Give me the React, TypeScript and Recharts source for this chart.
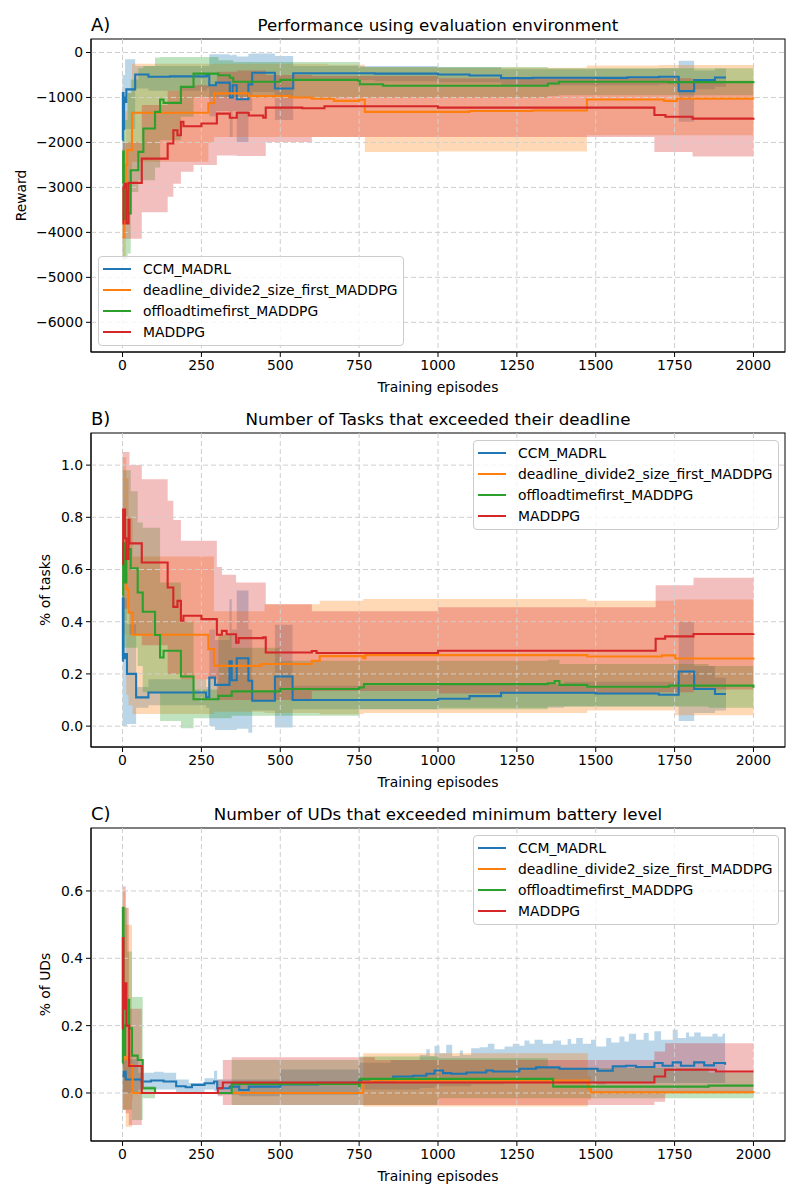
import { ComposedChart, Area, Line, XAxis, YAxis, CartesianGrid, Legend } from 'recharts';

type LinePoint = [number, number];
type BandPoint = [number, number, number];

const seriesNames = ['CCM_MADRL', 'deadline_divide2_size_first_MADDPG', 'offloadtimefirst_MADDPG', 'MADDPG'];
const seriesColors = ['#1f77b4', '#ff7f0e', '#2ca02c', '#d62728'];
const episodeTicks = [0, 250, 500, 750, 1000, 1250, 1500, 1750, 2000];

// Panel A: reward. Lines are [episode, mean], bands are [episode, low, high]
const rewardCcmLine: LinePoint[] = [[0, -1950], [1, -900], [3, -1700], [5, -1000], [8, -1100], [12, -820], [40, -490], [82, -540], [150, -530], [267, -500], [275, -730], [296, -670], [340, -1000], [349, -730], [362, -1040], [399, -710], [411, -450], [483, -800], [541, -460], [800, -470], [1000, -490], [1100, -510], [1200, -570], [1300, -560], [1400, -560], [1500, -565], [1600, -550], [1700, -540], [1763, -860], [1812, -615], [1878, -555], [1913, -555]];
const rewardCcmBand: BandPoint[] = [[0, -2400, -500], [8, -1700, -150], [40, -800, -300], [82, -850, -300], [267, -800, -300], [275, -1420, -40], [296, -1300, -40], [340, -1880, -60], [349, -1300, -50], [362, -1990, -90], [399, -1300, -30], [411, -880, -20], [483, -1500, -80], [541, -620, -300], [800, -640, -300], [1000, -660, -330], [1200, -730, -370], [1500, -730, -360], [1700, -710, -350], [1763, -1540, -185], [1812, -820, -400], [1878, -760, -355], [1913, -760, -355]];
const rewardDeadlineLine: LinePoint[] = [[0, -4100], [4, -3000], [10, -2500], [15, -2170], [30, -1340], [272, -1130], [290, -910], [400, -970], [530, -1000], [600, -1030], [670, -1075], [750, -1050], [768, -1320], [1100, -1300], [1300, -1290], [1472, -1045], [1716, -1075], [1757, -1025], [2000, -1030]];
const rewardDeadlineBand: BandPoint[] = [[0, -4600, -2500], [10, -3600, -1300], [15, -3000, -900], [30, -2430, -250], [272, -2000, -260], [290, -1880, -250], [500, -1880, -250], [650, -1880, -270], [768, -2210, -330], [1000, -2200, -340], [1472, -1840, -290], [1700, -1840, -280], [2000, -1840, -245]];
const rewardOffloadLine: LinePoint[] = [[0, -2900], [2, -2200], [4, -3700], [7, -3100], [16, -3580], [26, -2620], [50, -2210], [66, -1690], [103, -1320], [119, -1045], [130, -1120], [185, -765], [225, -470], [304, -505], [340, -560], [351, -650], [500, -610], [747, -630], [752, -705], [826, -740], [1348, -690], [1383, -650], [1732, -660], [2000, -640]];
const rewardOffloadBand: BandPoint[] = [[0, -4600, -1500], [16, -4470, -900], [26, -3100, -600], [50, -2840, -350], [66, -2840, -300], [103, -2560, -110], [119, -1950, -100], [185, -1430, -100], [225, -990, -100], [304, -990, -170], [351, -1000, -210], [752, -1000, -320], [1348, -970, -350], [1383, -950, -350], [2000, -950, -320]];
const rewardMaddpgLine: LinePoint[] = [[0, -3800], [3, -3000], [8, -2920], [12, -3800], [19, -2900], [61, -2360], [143, -2025], [161, -1730], [174, -1840], [185, -1540], [193, -1640], [250, -1580], [299, -1360], [340, -1450], [362, -1340], [400, -1400], [446, -1450], [454, -1225], [570, -1240], [640, -1195], [1000, -1225], [1686, -1390], [1721, -1430], [1807, -1470], [2000, -1450]];
const rewardMaddpgBand: BandPoint[] = [[0, -4140, -2000], [61, -3550, -1170], [143, -3210, -850], [161, -2920, -850], [185, -2650, -750], [225, -2500, -730], [299, -2290, -430], [362, -2300, -400], [454, -1990, -500], [600, -1880, -520], [1000, -1880, -570], [1686, -2210, -570], [1807, -2310, -630], [2000, -2270, -630]];

// Panel B: share of tasks over the deadline
const tasksCcmLine: LinePoint[] = [[0, 0.25], [1, 0.49], [3, 0.26], [8, 0.276], [14, 0.2], [43, 0.11], [82, 0.129], [265, 0.11], [275, 0.186], [293, 0.158], [339, 0.248], [346, 0.176], [362, 0.26], [399, 0.174], [411, 0.097], [483, 0.19], [539, 0.1], [1000, 0.105], [1100, 0.115], [1200, 0.128], [1500, 0.125], [1700, 0.12], [1763, 0.209], [1812, 0.142], [1878, 0.123], [1913, 0.123]];
const tasksCcmBand: BandPoint[] = [[0, 0, 0.49], [14, 0.008, 0.39], [43, 0.07, 0.15], [82, 0.08, 0.18], [265, 0.07, 0.15], [275, 0, 0.37], [293, -0.015, 0.33], [339, -0.015, 0.486], [346, -0.015, 0.37], [362, -0.01, 0.52], [399, -0.025, 0.37], [411, 0.06, 0.13], [483, -0.005, 0.388], [539, 0.065, 0.155], [1000, 0.07, 0.16], [1400, 0.075, 0.17], [1763, 0.02, 0.4], [1812, 0.05, 0.23], [1878, 0.06, 0.185], [1913, 0.06, 0.185]];
const tasksDeadlineLine: LinePoint[] = [[0, 0.7], [12, 0.525], [19, 0.435], [32, 0.35], [272, 0.295], [290, 0.231], [440, 0.238], [600, 0.25], [625, 0.268], [763, 0.26], [770, 0.272], [1473, 0.267], [1710, 0.271], [1752, 0.259], [2000, 0.262]];
const tasksDeadlineBand: BandPoint[] = [[0, 0.35, 1.03], [12, 0.12, 0.95], [19, 0.08, 0.8], [32, 0.046, 0.65], [272, 0.046, 0.65], [290, 0.055, 0.44], [450, 0.05, 0.467], [625, 0.045, 0.48], [763, 0.05, 0.487], [1473, 0.06, 0.48], [1752, 0.042, 0.485], [2000, 0.04, 0.485]];
const tasksOffloadLine: LinePoint[] = [[0, 0.5], [2, 0.7], [6, 0.55], [12, 0.678], [26, 0.605], [48, 0.512], [64, 0.438], [103, 0.349], [119, 0.263], [130, 0.289], [185, 0.19], [225, 0.103], [304, 0.116], [346, 0.133], [500, 0.142], [750, 0.148], [765, 0.161], [1348, 0.164], [1370, 0.173], [1385, 0.158], [1473, 0.151], [1732, 0.155], [2000, 0.147]];
const tasksOffloadBand: BandPoint[] = [[0, 0.3, 0.98], [26, 0.3, 0.9], [48, 0.23, 0.78], [64, 0.13, 0.76], [119, 0.02, 0.55], [185, -0.008, 0.4], [225, 0.03, 0.14], [304, 0.03, 0.35], [346, 0.04, 0.3], [500, 0.04, 0.25], [750, 0.065, 0.25], [1348, 0.075, 0.254], [1385, 0.075, 0.238], [1858, 0.07, 0.23], [2000, 0.06, 0.23]];
const tasksMaddpgLine: LinePoint[] = [[0, 0.62], [2, 0.83], [8, 0.72], [12, 0.64], [19, 0.79], [22, 0.7], [61, 0.627], [143, 0.531], [161, 0.457], [174, 0.48], [185, 0.404], [193, 0.423], [250, 0.41], [299, 0.35], [315, 0.365], [330, 0.352], [360, 0.32], [368, 0.337], [446, 0.34], [454, 0.282], [600, 0.288], [615, 0.28], [1000, 0.289], [1690, 0.335], [1720, 0.344], [1810, 0.353], [2000, 0.355]];
const tasksMaddpgBand: BandPoint[] = [[0, 0.45, 1.05], [22, 0.35, 1.0], [61, 0.31, 0.946], [143, 0.2, 0.863], [161, 0.2, 0.79], [185, 0.18, 0.71], [299, 0.1, 0.61], [315, 0.1, 0.58], [360, 0.1, 0.55], [454, 0.1, 0.467], [600, 0.135, 0.44], [1000, 0.125, 0.455], [1690, 0.13, 0.54], [1810, 0.14, 0.568], [2000, 0.14, 0.568]];

// Panel C: share of UDs below the battery level
const batteryCcmLine: LinePoint[] = [[0, 0.05], [4, 0.063], [10, 0.04], [60, 0.034], [90, 0.037], [130, 0.034], [170, 0.02], [200, 0.017], [220, 0.024], [260, 0.029], [290, 0.034], [300, 0.014], [340, 0.019], [370, 0.009], [400, 0.019], [500, 0.025], [620, 0.03], [750, 0.037], [858, 0.049], [921, 0.051], [963, 0.057], [989, 0.067], [1016, 0.059], [1042, 0.057], [1090, 0.061], [1153, 0.067], [1174, 0.064], [1258, 0.072], [1311, 0.076], [1385, 0.072], [1448, 0.072], [1506, 0.066], [1554, 0.079], [1596, 0.081], [1628, 0.077], [1686, 0.089], [1712, 0.081], [1744, 0.091], [1770, 0.081], [1812, 0.091], [1844, 0.082], [1875, 0.089], [1910, 0.084]];
const batteryCcmBand: BandPoint[] = [[0, 0, 0.1], [50, 0.01, 0.06], [100, 0.01, 0.063], [130, 0.01, 0.06], [170, 0.002, 0.04], [210, 0.003, 0.03], [260, 0.01, 0.044], [290, 0.005, 0.066], [300, -0.005, 0.04], [370, -0.01, 0.04], [500, -0.005, 0.07], [750, 0.01, 0.09], [850, 0.01, 0.098], [942, 0.015, 0.113], [963, 0.015, 0.13], [974, 0.015, 0.11], [989, 0.02, 0.14], [1005, 0.02, 0.118], [1026, 0.02, 0.143], [1045, 0.02, 0.11], [1069, 0.02, 0.126], [1079, 0.02, 0.113], [1105, 0.025, 0.133], [1132, 0.025, 0.136], [1158, 0.025, 0.146], [1179, 0.025, 0.13], [1211, 0.03, 0.138], [1237, 0.03, 0.146], [1258, 0.03, 0.14], [1274, 0.03, 0.156], [1290, 0.03, 0.146], [1306, 0.03, 0.158], [1332, 0.03, 0.146], [1364, 0.03, 0.156], [1390, 0.03, 0.143], [1411, 0.03, 0.16], [1422, 0.03, 0.146], [1438, 0.03, 0.163], [1459, 0.03, 0.146], [1485, 0.03, 0.158], [1501, 0.025, 0.138], [1533, 0.03, 0.163], [1549, 0.03, 0.15], [1575, 0.03, 0.168], [1591, 0.03, 0.153], [1605, 0.03, 0.176], [1628, 0.03, 0.158], [1652, 0.03, 0.178], [1668, 0.03, 0.156], [1686, 0.03, 0.183], [1707, 0.03, 0.158], [1744, 0.03, 0.188], [1760, 0.03, 0.163], [1786, 0.03, 0.18], [1796, 0.03, 0.168], [1812, 0.03, 0.18], [1833, 0.03, 0.168], [1870, 0.03, 0.176], [1886, 0.03, 0.168], [1902, 0.03, 0.176], [1910, 0.03, 0.173]];
const batteryDeadlineLine: LinePoint[] = [[0, 0.1], [10, 0.108], [19, 0.083], [32, 0], [750, 0], [763, 0.034], [790, 0.037], [1475, 0.014], [1485, 0.002], [2000, 0]];
const batteryDeadlineBand: BandPoint[] = [[0, -0.05, 0.6], [10, -0.1, 0.5], [30, -0.02, 0.2], [32, 0, 0], [750, 0, 0], [763, -0.04, 0.118], [1475, -0.02, 0.05], [1485, -0.003, 0.007], [2000, -0.003, 0.005]];
const batteryOffloadLine: LinePoint[] = [[0, 0.088], [1, 0.55], [3, 0.113], [8, 0.2], [19, 0.277], [21, 0.192], [30, 0.111], [48, 0.098], [64, 0.014], [103, 0], [346, 0.027], [750, 0.02], [752, 0.042], [1348, 0.042], [1365, 0.019], [1858, 0.022], [2000, 0.022]];
const batteryOffloadBand: BandPoint[] = [[0, -0.05, 0.55], [15, -0.05, 0.42], [30, -0.08, 0.285], [64, -0.016, 0.02], [103, 0, 0], [346, -0.036, 0.098], [750, -0.036, 0.108], [1000, -0.016, 0.103], [1348, -0.016, 0.074], [1858, -0.016, 0.06], [2000, -0.016, 0.06]];
const batteryMaddpgLine: LinePoint[] = [[0, 0.19], [1, 0.46], [3, 0.25], [6, 0.326], [12, 0.2], [21, 0.08], [61, 0], [302, 0.014], [318, 0.031], [1686, 0.049], [1720, 0.069], [1881, 0.064], [2000, 0.064]];
const batteryMaddpgBand: BandPoint[] = [[0, -0.05, 0.614], [10, -0.06, 0.55], [20, -0.095, 0.25], [61, 0, 0], [302, -0.01, 0.04], [318, -0.036, 0.098], [346, -0.036, 0.106], [800, -0.036, 0.098], [1686, -0.026, 0.123], [1720, 0, 0.148], [2000, 0.004, 0.136]];

const rewardTicks = [0, -1000, -2000, -3000, -4000, -5000, -6000];
const tasksTicks = [0, 0.2, 0.4, 0.6, 0.8, 1.0];
const batteryTicks = [0, 0.2, 0.4, 0.6];

const FONT = '"DejaVu Sans", sans-serif';
const PLOT_LEFT = 91;
const PLOT_RIGHT = 785;

const toLine = (points: LinePoint[]) => points.map(([ep, mean]) => ({ ep, mean }));
const toBand = (points: BandPoint[]) => points.map(([ep, low, high]) => ({ ep, range: [low, high] }));

function FrameLegend() {
  return (
    <div
      style={{
        width: 304,
        height: 88,
        border: '1px solid #cccccc',
        borderRadius: 4,
        background: 'rgba(255,255,255,0.8)',
        fontFamily: FONT,
        fontSize: 13.9,
        color: '#000',
      }}
    >
      {seriesNames.map((name, i) => (
        <div key={name} style={{ position: 'absolute', left: 5, top: 2 + i * 21, height: 21, display: 'flex', alignItems: 'center', whiteSpace: 'nowrap' }}>
          <span style={{ display: 'inline-block', width: 28, height: 2, background: seriesColors[i], marginRight: 12 }} />
          {name}
        </div>
      ))}
    </div>
  );
}

interface PanelProps {
  top: number;
  marginTop: number;
  plotHeight: number;
  letter: string;
  title: string;
  yLabel: string;
  yLabelX: number;
  yDomain: [number, number];
  yTicks: number[];
  yFormat: (v: number) => string;
  lines: LinePoint[][];
  bands: BandPoint[][];
  legendLeft: number;
  legendTop: number;
}

function Panel(p: PanelProps) {
  const height = p.marginTop + p.plotHeight + 48;
  return (
    <div style={{ position: 'absolute', left: 0, top: p.top }}>
      <ComposedChart
        width={800}
        height={height}
        margin={{ top: p.marginTop, right: 800 - PLOT_RIGHT, bottom: 0, left: 0 }}
        style={{ fontFamily: FONT }}
      >
        <XAxis
          dataKey="ep"
          type="number"
          domain={[-100, 2100]}
          ticks={episodeTicks}
          allowDataOverflow
          height={48}
          tickSize={5}
          tickMargin={3}
          tick={{ fill: '#000', fontSize: 13.9, fontFamily: FONT }}
          tickLine={{ stroke: '#000' }}
          axisLine={{ stroke: '#000' }}
        />
        <YAxis
          type="number"
          domain={p.yDomain}
          ticks={p.yTicks}
          allowDataOverflow
          width={PLOT_LEFT}
          tickSize={5}
          tickMargin={3}
          tickFormatter={p.yFormat}
          tick={{ fill: '#000', fontSize: 13.9, fontFamily: FONT }}
          tickLine={{ stroke: '#000' }}
          axisLine={{ stroke: '#000' }}
        />
        {p.bands.map((band, i) => (
          <Area
            key={seriesNames[i]}
            data={toBand(band)}
            dataKey="range"
            type="stepAfter"
            stroke="none"
            fill={seriesColors[i]}
            fillOpacity={0.3}
            dot={false}
            activeDot={false}
            legendType="none"
            isAnimationActive={false}
          />
        ))}
        <CartesianGrid
          stroke="#cfcfcf"
          strokeDasharray="5 3"
          zIndex={150}
          horizontalValues={p.yTicks}
          verticalValues={episodeTicks}
        />
        {p.lines.map((line, i) => (
          <Line
            key={seriesNames[i]}
            data={toLine(line)}
            dataKey="mean"
            name={seriesNames[i]}
            type="stepAfter"
            stroke={seriesColors[i]}
            strokeWidth={2.1}
            dot={false}
            activeDot={false}
            isAnimationActive={false}
          />
        ))}
        <rect x={PLOT_LEFT} y={p.marginTop} width={PLOT_RIGHT - PLOT_LEFT} height={p.plotHeight} fill="none" stroke="#000" />
        <text x={PLOT_LEFT} y={p.marginTop - 8} fontSize={18} fontFamily={FONT} fill="#000">{p.letter}</text>
        <text x={(PLOT_LEFT + PLOT_RIGHT) / 2} y={p.marginTop - 8} fontSize={16.7} fontFamily={FONT} fill="#000" textAnchor="middle">{p.title}</text>
        <text x={(PLOT_LEFT + PLOT_RIGHT) / 2} y={p.marginTop + p.plotHeight + 40} fontSize={13.9} fontFamily={FONT} fill="#000" textAnchor="middle">Training episodes</text>
        <text
          transform={`translate(${p.yLabelX} ${p.marginTop + p.plotHeight / 2}) rotate(-90)`}
          fontSize={13.9}
          fontFamily={FONT}
          fill="#000"
          textAnchor="middle"
        >
          {p.yLabel}
        </text>
        <Legend
          layout="vertical"
          align="center"
          verticalAlign="middle"
          content={<FrameLegend />}
          wrapperStyle={{ left: p.legendLeft, top: p.legendTop, width: 306, height: 90, margin: 0 }}
        />
      </ComposedChart>
    </div>
  );
}

const withMinus = (v: number) => String(v).replace('-', '\u2212');

export default function App() {
  return (
    <div style={{ position: 'absolute', left: 0, top: 0, width: 800, height: 1200, background: '#fff' }}>
      <Panel
        top={0}
        marginTop={39}
        plotHeight={313}
        letter="A)"
        title="Performance using evaluation environment"
        yLabel="Reward"
        yLabelX={26}
        yDomain={[-6660, 300]}
        yTicks={rewardTicks}
        yFormat={withMinus}
        lines={[rewardCcmLine, rewardDeadlineLine, rewardOffloadLine, rewardMaddpgLine]}
        bands={[rewardCcmBand, rewardDeadlineBand, rewardOffloadBand, rewardMaddpgBand]}
        legendLeft={98}
        legendTop={256}
      />
      <Panel
        top={394}
        marginTop={39}
        plotHeight={314}
        letter="B)"
        title="Number of Tasks that exceeded their deadline"
        yLabel="% of tasks"
        yLabelX={50}
        yDomain={[-0.08, 1.123]}
        yTicks={tasksTicks}
        yFormat={(v) => v.toFixed(1)}
        lines={[tasksCcmLine, tasksDeadlineLine, tasksOffloadLine, tasksMaddpgLine]}
        bands={[tasksCcmBand, tasksDeadlineBand, tasksOffloadBand, tasksMaddpgBand]}
        legendLeft={473}
        legendTop={46}
      />
      <Panel
        top={789}
        marginTop={39}
        plotHeight={313}
        letter="C)"
        title="Number of UDs that exceeded minimum battery level"
        yLabel="% of UDs"
        yLabelX={50}
        yDomain={[-0.1426, 0.787]}
        yTicks={batteryTicks}
        yFormat={(v) => v.toFixed(1)}
        lines={[batteryCcmLine, batteryDeadlineLine, batteryOffloadLine, batteryMaddpgLine]}
        bands={[batteryCcmBand, batteryDeadlineBand, batteryOffloadBand, batteryMaddpgBand]}
        legendLeft={473}
        legendTop={46}
      />
    </div>
  );
}
